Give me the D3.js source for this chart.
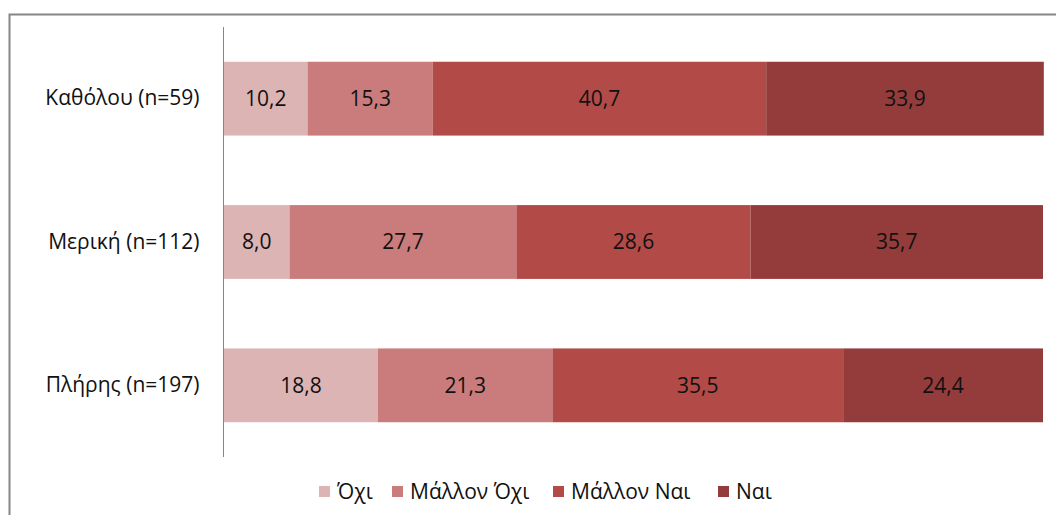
<!DOCTYPE html>
<html><head><meta charset="utf-8">
<script src="https://cdn.jsdelivr.net/npm/d3@7"></script>
<style>body{margin:0;background:#fff;} text{font-family:"Open Sans","Noto Sans",sans-serif;}</style>
</head><body>
<svg id="chart" width="1056" height="515"></svg>
<script>
const categories = ["Καθόλου (n=59)", "Μερική (n=112)", "Πλήρης (n=197)"];
const seriesNames = ["Όχι", "Μάλλον Όχι", "Μάλλον Ναι", "Ναι"];
const ochi = [10.2, 8.0, 18.8];
const mallonOchi = [15.3, 27.7, 21.3];
const mallonNai = [40.7, 28.6, 35.5];
const nai = [33.9, 35.7, 24.4];
const colors = ["#DDB4B4", "#C97C7B", "#B24A48", "#943C3B"];

const svg = d3.select("#chart");
const W = 1056, H = 515;
const FS = 21;
const margin = {left: 224, right: 13, top: 27, bottom: 58};
const x = d3.scaleLinear().domain([0, 100]).range([margin.left, W - margin.right]);
const y = d3.scaleBand().domain(categories).range([margin.top, H - margin.bottom]).paddingInner(0.485).paddingOuter(0.2425);

// outer frame
svg.append("path").attr("d", `M9.5,${H} V14.5 H${W}`).attr("fill", "none").attr("stroke", "#868686").attr("stroke-width", 2);

const series = [ochi, mallonOchi, mallonNai, nai];
const rows = categories.map((c, i) => {
  const r = {cat: c};
  seriesNames.forEach((s, j) => r[s] = series[j][i]);
  return r;
});
const stacked = d3.stack().keys(seriesNames)(rows);

const g = svg.append("g");
stacked.forEach((layer, j) => {
  const lg = g.append("g");
  lg.selectAll("rect").data(layer).join("rect")
    .attr("x", d => x(d[0]))
    .attr("y", d => y(d.data.cat))
    .attr("width", d => x(d[1]) - x(d[0]))
    .attr("height", y.bandwidth())
    .attr("fill", colors[j]);
  lg.selectAll("text").data(layer).join("text")
    .attr("x", d => (x(d[0]) + x(d[1])) / 2)
    .attr("y", d => y(d.data.cat) + y.bandwidth() / 2)
    .attr("dy", "0.35em")
    .attr("text-anchor", "middle")
    .attr("font-size", FS)
    .attr("fill", "#111")
    .text(d => d3.format(".1f")(d[1] - d[0]).replace(".", ","));
});

// y axis
const yAxis = d3.axisLeft(y).tickSize(0).tickPadding(24);
const ax = svg.append("g").attr("transform", `translate(${margin.left - 0.5},0)`).call(yAxis);
ax.select(".domain").attr("stroke", "#868686").attr("stroke-width", 1).attr("d", `M0,${margin.top}V${H - margin.bottom}`);
ax.selectAll("text").attr("font-size", FS).attr("fill", "#111").style("font-family", '"Open Sans","Noto Sans",sans-serif');

// legend
const legendX = [319, 392, 553, 718];
const lgd = svg.append("g");
seriesNames.forEach((s, j) => {
  lgd.append("rect").attr("x", legendX[j]).attr("y", 486).attr("width", 11).attr("height", 11).attr("fill", colors[j]);
  lgd.append("text").attr("x", legendX[j] + 18).attr("y", 492).attr("dy", "0.35em")
    .attr("font-size", FS).attr("fill", "#111").text(s);
});
</script>
</body></html>
